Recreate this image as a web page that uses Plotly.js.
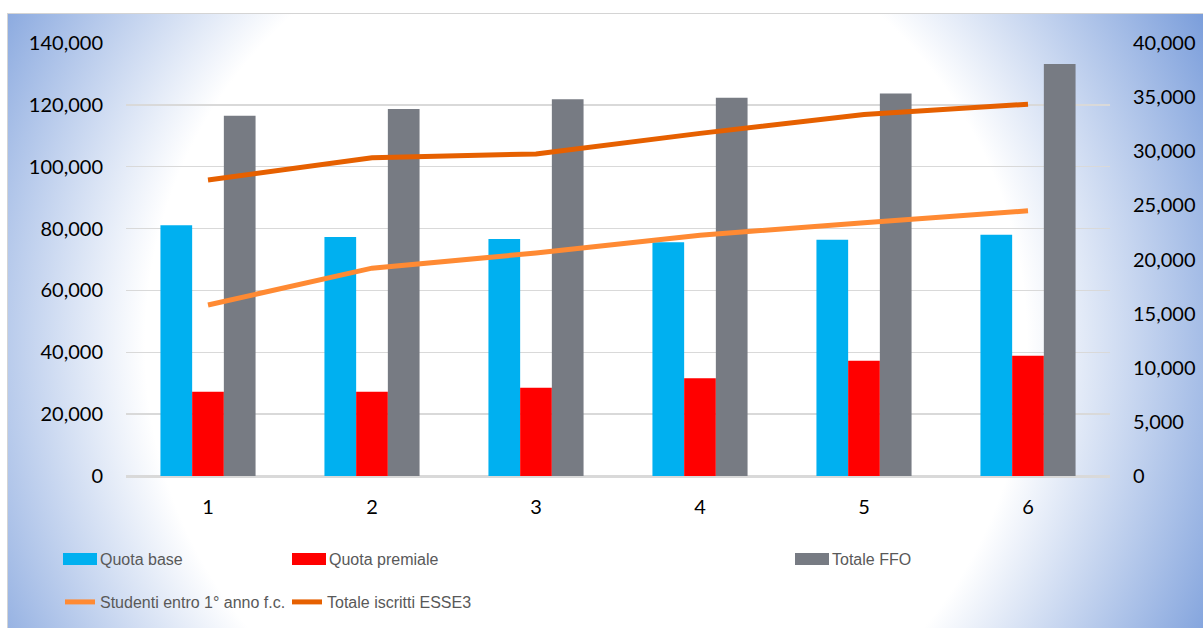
<!DOCTYPE html>
<html>
<head>
<meta charset="utf-8">
<script src="https://cdn.plot.ly/plotly-3.0.1.min.js"></script>
<style>
  html, body { margin: 0; padding: 0; background: #ffffff; width: 1203px; height: 628px; overflow: hidden; }
  #bg { position: absolute; left: 7px; top: 13px; right: 0; bottom: 0;
        border-top: 1px solid #d4d4d4; border-left: 1px solid #d4d4d4;
        background: radial-gradient(circle farthest-corner at 578px 330px, #ffffff 0%, #ffffff 63%, #7b9edb 100%); }
  #chart { position: absolute; left: 0; top: 0; width: 1203px; height: 628px; }
</style>
</head>
<body>
<div id="bg"></div>
<div id="chart"></div>
<script>
const categories = ['1', '2', '3', '4', '5', '6'];
const quotaBase = [81100, 77300, 76600, 75600, 76400, 78000];
const quotaPremiale = [27250, 27250, 28550, 31600, 37300, 38900];
const totaleFFO = [116500, 118700, 121800, 122300, 123700, 133200];
const studentiEntro1 = [15800, 19200, 20600, 22250, 23400, 24500];
const totaleIscritti = [27350, 29400, 29750, 31650, 33400, 34350];

const legendFont = { family: 'Liberation Sans, Arial, sans-serif', size: 16, color: '#595959' };
const tickFont = { family: 'Lato, Carlito, Calibri, sans-serif', size: 20, color: '#000000' };

const traces = [
  { type: 'bar', name: 'Quota base', x: categories, y: quotaBase, marker: { color: '#00b0f0' }, legend: 'legend' },
  { type: 'bar', name: 'Quota premiale', x: categories, y: quotaPremiale, marker: { color: '#ff0000' }, legend: 'legend2' },
  { type: 'bar', name: 'Totale FFO', x: categories, y: totaleFFO, marker: { color: '#777b83' }, legend: 'legend3' },
  { type: 'scatter', mode: 'lines', name: 'Studenti entro 1° anno f.c.', x: categories, y: studentiEntro1, yaxis: 'y2',
    line: { color: '#ff8a33', width: 5 }, legend: 'legend4' },
  { type: 'scatter', mode: 'lines', name: 'Totale iscritti ESSE3', x: categories, y: totaleIscritti, yaxis: 'y2',
    line: { color: '#e66000', width: 5 }, legend: 'legend5' }
];

const row1 = (476 - 559) / 433;
const row2 = (476 - 602) / 433;
function lg(px, py) {
  return { x: (px - 126) / 984, y: py, xanchor: 'left', yanchor: 'middle', orientation: 'h',
           bgcolor: 'rgba(0,0,0,0)', borderwidth: 0, font: legendFont };
}

const layout = {
  width: 1203, height: 628,
  margin: { l: 126, r: 93, t: 43, b: 152, pad: 0, autoexpand: false },
  paper_bgcolor: 'rgba(0,0,0,0)',
  plot_bgcolor: 'rgba(0,0,0,0)',
  barmode: 'group', bargap: 0.42, bargroupgap: 0,
  xaxis: { type: 'category', showgrid: false, showline: true, linecolor: '#d9d9d9', linewidth: 1.5,
           ticks: '', ticklabelstandoff: 12, automargin: false, tickfont: tickFont },
  yaxis: { range: [0, 140000], dtick: 20000, tickformat: ',d', showgrid: true, gridcolor: '#d9d9d9', gridwidth: 1.5,
           zeroline: true, zerolinecolor: '#d9d9d9', zerolinewidth: 1.5, showline: false, ticks: '',
           ticklabelstandoff: 22, automargin: false, tickfont: tickFont },
  yaxis2: { range: [0, 40000], dtick: 5000, tickformat: ',d', overlaying: 'y', side: 'right', showgrid: false,
            zeroline: false, showline: false, ticks: '', ticklabelstandoff: 22, automargin: false, tickfont: tickFont },
  showlegend: true,
  legend: lg(60, row1),
  legend2: lg(289, row1),
  legend3: lg(792, row1),
  legend4: lg(60, row2),
  legend5: lg(287, row2)
};

const gd = document.getElementById('chart');

// Excel draws wide rectangular swatches for the bar series
function widenSwatches() {
  gd.querySelectorAll('.legendpoints path').forEach(function (p) {
    if (p.getAttribute('d') === 'M6,6H-6V-6H6Z') p.setAttribute('d', 'M17,6H-17V-6H17Z');
  });
}
new MutationObserver(widenSwatches).observe(gd, { childList: true, subtree: true });

Plotly.newPlot(gd, traces, layout, { displayModeBar: false, staticPlot: true }).then(function () {
  widenSwatches();
  setTimeout(widenSwatches, 50);
});
</script>
</body>
</html>
